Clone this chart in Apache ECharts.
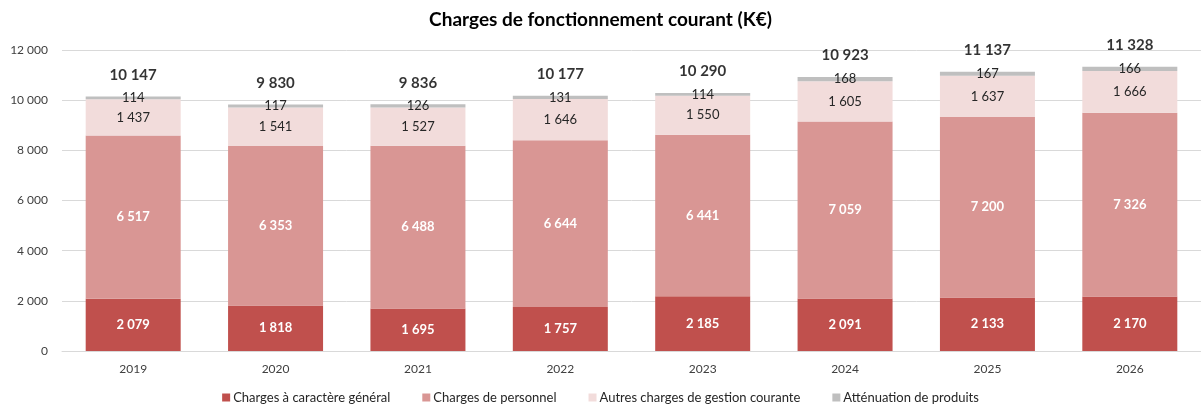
<!DOCTYPE html>
<html lang="fr">
<head>
    <meta charset="UTF-8">
    <title>Charges de fonctionnement courant</title>
    <script src="https://cdn.jsdelivr.net/npm/echarts@6/dist/echarts.min.js"></script>
    <style>
        * { margin: 0; padding: 0; }
        body { background: #fff; }
        #chart { width: 1201px; height: 409px; }
    </style>
</head>
<body>
    <div id="chart"></div>
    <script>
        const years = ['2019', '2020', '2021', '2022', '2023', '2024', '2025', '2026'];
        const chargesGenerales = [2079, 1818, 1695, 1757, 2185, 2091, 2133, 2170];
        const chargesPersonnel = [6517, 6353, 6488, 6644, 6441, 7059, 7200, 7326];
        const autresCharges = [1437, 1541, 1527, 1646, 1550, 1605, 1637, 1666];
        const attenuation = [114, 117, 126, 131, 114, 168, 167, 166];
        const totals = [10147, 9830, 9836, 10177, 10290, 10923, 11137, 11328];

        const FONT = 'Lato, "Open Sans", sans-serif';

        function fmt(v) {
            return String(v).replace(/\B(?=(\d{3})+(?!\d))/g, ' ');
        }

        const chart = echarts.init(document.getElementById('chart'));

        function barSeries(name, data, color, labelColor, bold) {
            return {
                name: name,
                type: 'bar',
                stack: 'total',
                data: data,
                barWidth: 95,
                itemStyle: { color: color },
                label: {
                    show: true,
                    position: 'inside',
                    color: labelColor,
                    fontFamily: FONT,
                    fontSize: 13,
                    fontWeight: bold ? 'bold' : 'normal',
                    formatter: p => fmt(p.value)
                }
            };
        }

        chart.setOption({
            animation: false,
            textStyle: { fontFamily: FONT },
            title: {
                text: 'Charges de fonctionnement courant (K€)',
                left: 'center',
                top: 5,
                textStyle: { fontFamily: FONT, fontSize: 19, fontWeight: 'bold', color: '#000' }
            },
            grid: { left: 62, right: 0, top: 50, bottom: 58 },
            legend: {
                bottom: 0,
                left: 'center',
                itemWidth: 8,
                itemHeight: 8,
                itemGap: 32,
                icon: 'rect',
                data: ['Charges à caractère général', 'Charges de personnel', 'Autres charges de gestion courante', 'Atténuation de produits'],
                textStyle: { fontFamily: FONT, fontSize: 13, color: '#262626', padding: [0, 0, 0, -2] }
            },
            xAxis: {
                type: 'category',
                data: years,
                axisTick: { show: false },
                axisLine: { lineStyle: { color: '#D9D9D9' } },
                axisLabel: { color: '#404040', fontSize: 12, margin: 12, fontFamily: FONT }
            },
            yAxis: {
                type: 'value',
                min: 0,
                max: 12000,
                interval: 2000,
                axisLabel: { color: '#404040', fontSize: 12, margin: 14, fontFamily: FONT, formatter: v => fmt(v) },
                splitLine: { lineStyle: { color: '#D9D9D9' } }
            },
            series: [
                barSeries('Charges à caractère général', chargesGenerales, '#C0504D', '#fff', true),
                barSeries('Charges de personnel', chargesPersonnel, '#D99694', '#fff', true),
                barSeries('Autres charges de gestion courante', autresCharges, '#F2DCDB', '#262626', false),
                barSeries('Atténuation de produits', attenuation, '#BFBFBF', '#262626', false),
                {
                    name: 'Total',
                    type: 'scatter',
                    data: totals,
                    symbolSize: 0,
                    silent: true,
                    label: {
                        show: true,
                        position: 'top',
                        distance: 14,
                        color: '#000',
                        fontFamily: FONT,
                        fontSize: 15,
                        fontWeight: 'bold',
                        formatter: p => fmt(p.value)
                    }
                }
            ]
        });
    </script>
</body>
</html>
